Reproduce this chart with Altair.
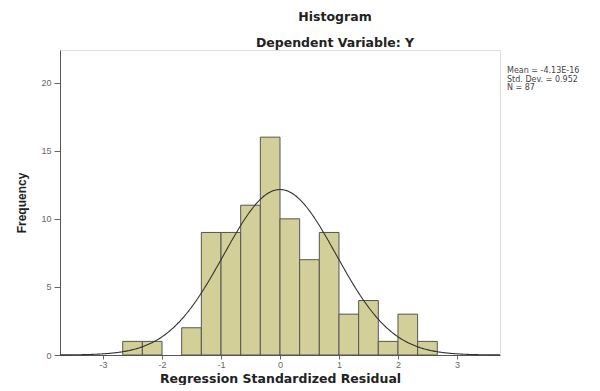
import altair as alt
import pandas as pd

# Histogram bins (width 1/3) and counts
bin_starts = [-8/3, -7/3, -2, -5/3, -4/3, -1, -2/3, -1/3, 0, 1/3, 2/3, 1, 4/3, 5/3, 2, 7/3]
counts = [1, 1, 0, 2, 9, 9, 11, 16, 10, 7, 9, 3, 4, 1, 3, 1]
bin_width = 1/3

# Summary statistics shown on the chart
stat_mean = -4.13e-16
stat_sd = 0.952
stat_n = 87
stat_labels = ["Mean = -4.13E-16", "Std. Dev. = 0.952", "N = 87"]

x_ticks = [-3, -2, -1, 0, 1, 2, 3]
y_ticks = [0, 5, 10, 15, 20]
x_domain = [-3.73, 3.73]
y_domain = [0, 22.4]

FONT = "Liberation Sans"
WIDE = "DejaVu Sans"

bars_df = pd.DataFrame({
    "start": bin_starts,
    "end": [s + bin_width for s in bin_starts],
    "count": counts,
})
bars_df = bars_df[bars_df["count"] > 0]

x_scale = alt.Scale(domain=x_domain, nice=False, zero=False)
y_scale = alt.Scale(domain=y_domain, nice=False)

x_axis = alt.Axis(values=x_ticks, title="Regression Standardized Residual", grid=False,
                  labelColor="#666666", labelFontSize=9, tickColor="#666666", tickSize=4,
                  domainColor="#555555", titleFontSize=12.5, titleFontWeight="bold",
                  titleFont=WIDE, titleColor="#222222", titlePadding=3, labelPadding=1,
                  labelExpr="'' + datum.value")
y_axis = alt.Axis(values=y_ticks, title="Frequency", grid=False,
                  labelColor="#666666", labelFontSize=9, tickColor="#666666", tickSize=6,
                  domainColor="#555555", titleFontSize=12, titleFontWeight="bold",
                  titleColor="#222222", titlePadding=12, labelPadding=3,
                  labelExpr="'' + datum.value")

bars = alt.Chart(bars_df).mark_rect(
    fill="#d3cf98", stroke="#555555", strokeWidth=1
).encode(
    x=alt.X("start:Q", scale=x_scale, axis=x_axis),
    x2="end:Q",
    y=alt.Y("count:Q", scale=y_scale, axis=y_axis),
    y2=alt.datum(0),
)

scale_factor = stat_n * bin_width
curve = alt.Chart(alt.sequence(x_domain[0], x_domain[1] + 0.001, 0.02, as_="x")).transform_calculate(
    y=f"{scale_factor} * exp(-0.5 * pow((datum.x - ({stat_mean})) / {stat_sd}, 2)) / ({stat_sd} * sqrt(2 * PI))"
).mark_line(color="#333333", strokeWidth=1.1).encode(
    x=alt.X("x:Q", scale=x_scale),
    y=alt.Y("y:Q", scale=y_scale),
)

stats_df = pd.DataFrame({"label": ["|".join(stat_labels)]})
stats = alt.Chart(stats_df).mark_text(
    align="left", baseline="top", fontSize=8, font=WIDE, color="#444444",
    lineBreak="|", lineHeight=8.5
).encode(
    text="label:N",
    x=alt.value(447),
    y=alt.value(17),
)

chart = alt.layer(bars, curve, stats).properties(
    width=440,
    height=305,
    padding={"left": 52, "top": 42, "right": 92, "bottom": 30},
    autosize=alt.AutoSizeParams(type="none"),
    title=alt.TitleParams(
        text=["Histogram", "Dependent Variable: Y"],
        fontSize=12.5, fontWeight="bold", color="#222222", font=WIDE,
        anchor="middle", dx=55, offset=1, lineHeight=26,
    ),
).configure_view(
    fill="#efefef", stroke="#9a9a9a", strokeWidth=1
).configure(
    font=FONT, background="white"
)

chart.save("out.html", embed_options={"renderer": "svg", "actions": False})
